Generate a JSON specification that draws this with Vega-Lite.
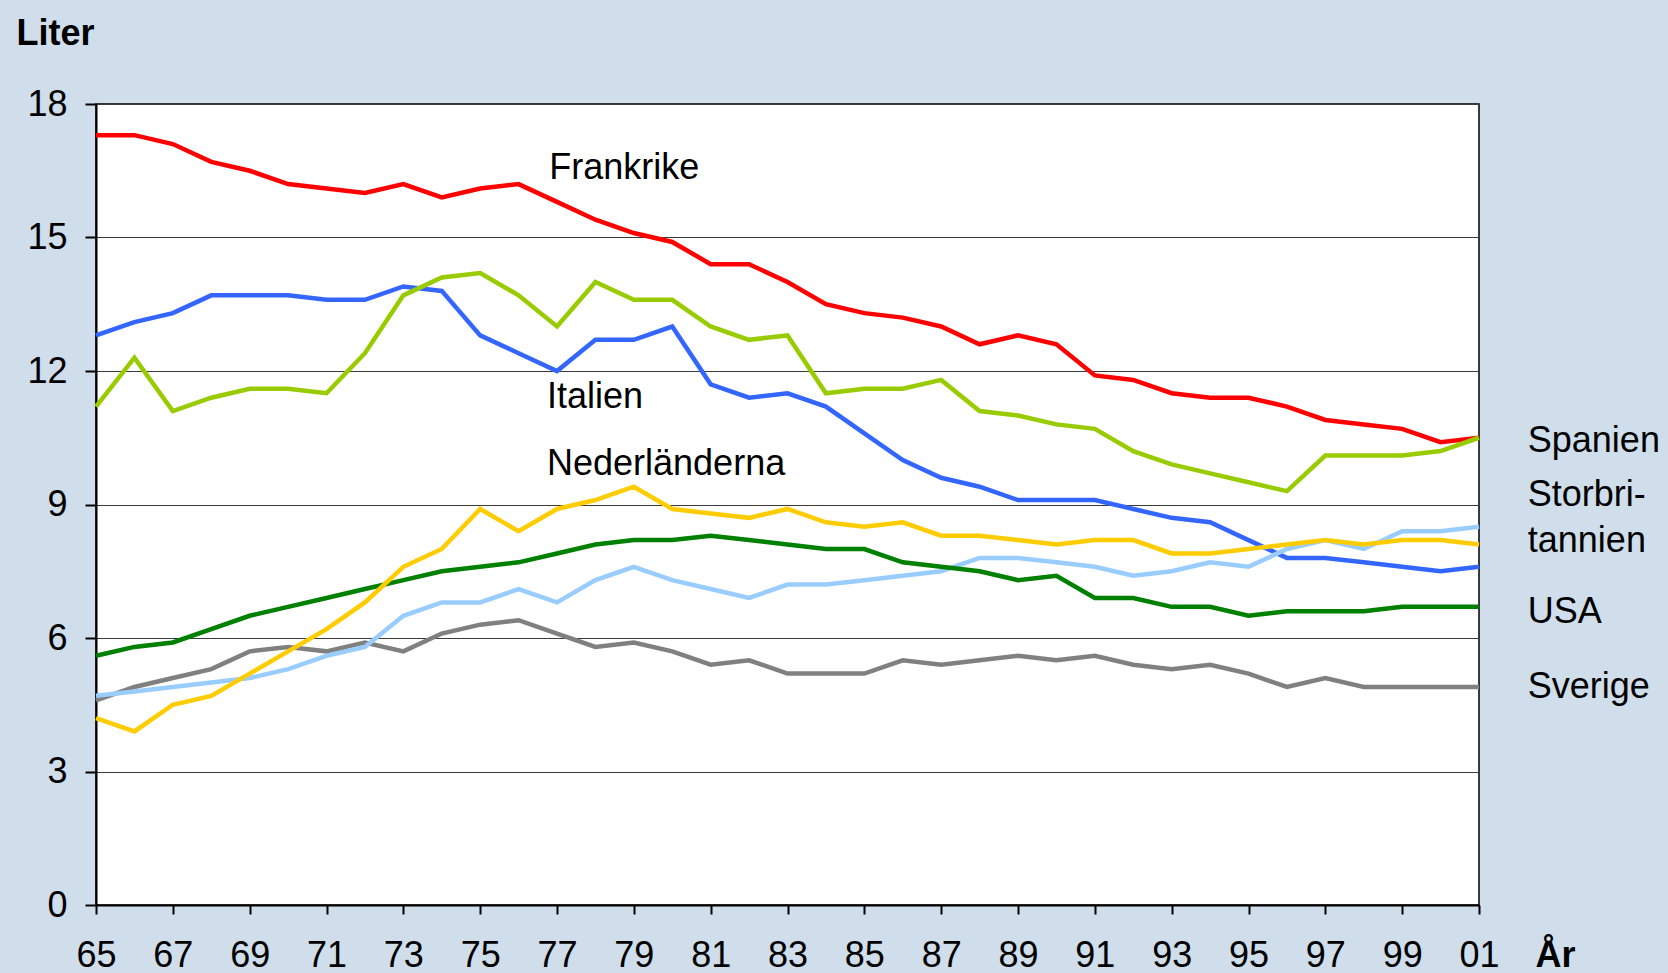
{
  "$schema": "https://vega.github.io/schema/vega-lite/v6.json",
  "width": 1383,
  "height": 801,
  "autosize": {"type": "none"},
  "padding": {"left": 96, "top": 104, "right": 189, "bottom": 68},
  "background": "#cfdeea",
  "config": {
    "view": {"fill": "#ffffff", "stroke": "#000000", "strokeWidth": 1.5},
    "font": "Liberation Sans",
    "axis": {"labelFont": "Liberation Sans", "titleFont": "Liberation Sans", "labelColor": "#000000", "titleColor": "#000000"}
  },
  "datasets": {
    "serier": [
      {"year":1965,"Frankrike":17.3,"Italien":12.8,"Spanien":11.2,"Nederländerna":4.2,"USA":5.6,"Storbritannien":4.7,"Sverige":4.6},
      {"year":1966,"Frankrike":17.3,"Italien":13.1,"Spanien":12.3,"Nederländerna":3.9,"USA":5.8,"Storbritannien":4.8,"Sverige":4.9},
      {"year":1967,"Frankrike":17.1,"Italien":13.3,"Spanien":11.1,"Nederländerna":4.5,"USA":5.9,"Storbritannien":4.9,"Sverige":5.1},
      {"year":1968,"Frankrike":16.7,"Italien":13.7,"Spanien":11.4,"Nederländerna":4.7,"USA":6.2,"Storbritannien":5.0,"Sverige":5.3},
      {"year":1969,"Frankrike":16.5,"Italien":13.7,"Spanien":11.6,"Nederländerna":5.2,"USA":6.5,"Storbritannien":5.1,"Sverige":5.7},
      {"year":1970,"Frankrike":16.2,"Italien":13.7,"Spanien":11.6,"Nederländerna":5.7,"USA":6.7,"Storbritannien":5.3,"Sverige":5.8},
      {"year":1971,"Frankrike":16.1,"Italien":13.6,"Spanien":11.5,"Nederländerna":6.2,"USA":6.9,"Storbritannien":5.6,"Sverige":5.7},
      {"year":1972,"Frankrike":16.0,"Italien":13.6,"Spanien":12.4,"Nederländerna":6.8,"USA":7.1,"Storbritannien":5.8,"Sverige":5.9},
      {"year":1973,"Frankrike":16.2,"Italien":13.9,"Spanien":13.7,"Nederländerna":7.6,"USA":7.3,"Storbritannien":6.5,"Sverige":5.7},
      {"year":1974,"Frankrike":15.9,"Italien":13.8,"Spanien":14.1,"Nederländerna":8.0,"USA":7.5,"Storbritannien":6.8,"Sverige":6.1},
      {"year":1975,"Frankrike":16.1,"Italien":12.8,"Spanien":14.2,"Nederländerna":8.9,"USA":7.6,"Storbritannien":6.8,"Sverige":6.3},
      {"year":1976,"Frankrike":16.2,"Italien":12.4,"Spanien":13.7,"Nederländerna":8.4,"USA":7.7,"Storbritannien":7.1,"Sverige":6.4},
      {"year":1977,"Frankrike":15.8,"Italien":12.0,"Spanien":13.0,"Nederländerna":8.9,"USA":7.9,"Storbritannien":6.8,"Sverige":6.1},
      {"year":1978,"Frankrike":15.4,"Italien":12.7,"Spanien":14.0,"Nederländerna":9.1,"USA":8.1,"Storbritannien":7.3,"Sverige":5.8},
      {"year":1979,"Frankrike":15.1,"Italien":12.7,"Spanien":13.6,"Nederländerna":9.4,"USA":8.2,"Storbritannien":7.6,"Sverige":5.9},
      {"year":1980,"Frankrike":14.9,"Italien":13.0,"Spanien":13.6,"Nederländerna":8.9,"USA":8.2,"Storbritannien":7.3,"Sverige":5.7},
      {"year":1981,"Frankrike":14.4,"Italien":11.7,"Spanien":13.0,"Nederländerna":8.8,"USA":8.3,"Storbritannien":7.1,"Sverige":5.4},
      {"year":1982,"Frankrike":14.4,"Italien":11.4,"Spanien":12.7,"Nederländerna":8.7,"USA":8.2,"Storbritannien":6.9,"Sverige":5.5},
      {"year":1983,"Frankrike":14.0,"Italien":11.5,"Spanien":12.8,"Nederländerna":8.9,"USA":8.1,"Storbritannien":7.2,"Sverige":5.2},
      {"year":1984,"Frankrike":13.5,"Italien":11.2,"Spanien":11.5,"Nederländerna":8.6,"USA":8.0,"Storbritannien":7.2,"Sverige":5.2},
      {"year":1985,"Frankrike":13.3,"Italien":10.6,"Spanien":11.6,"Nederländerna":8.5,"USA":8.0,"Storbritannien":7.3,"Sverige":5.2},
      {"year":1986,"Frankrike":13.2,"Italien":10.0,"Spanien":11.6,"Nederländerna":8.6,"USA":7.7,"Storbritannien":7.4,"Sverige":5.5},
      {"year":1987,"Frankrike":13.0,"Italien":9.6,"Spanien":11.8,"Nederländerna":8.3,"USA":7.6,"Storbritannien":7.5,"Sverige":5.4},
      {"year":1988,"Frankrike":12.6,"Italien":9.4,"Spanien":11.1,"Nederländerna":8.3,"USA":7.5,"Storbritannien":7.8,"Sverige":5.5},
      {"year":1989,"Frankrike":12.8,"Italien":9.1,"Spanien":11.0,"Nederländerna":8.2,"USA":7.3,"Storbritannien":7.8,"Sverige":5.6},
      {"year":1990,"Frankrike":12.6,"Italien":9.1,"Spanien":10.8,"Nederländerna":8.1,"USA":7.4,"Storbritannien":7.7,"Sverige":5.5},
      {"year":1991,"Frankrike":11.9,"Italien":9.1,"Spanien":10.7,"Nederländerna":8.2,"USA":6.9,"Storbritannien":7.6,"Sverige":5.6},
      {"year":1992,"Frankrike":11.8,"Italien":8.9,"Spanien":10.2,"Nederländerna":8.2,"USA":6.9,"Storbritannien":7.4,"Sverige":5.4},
      {"year":1993,"Frankrike":11.5,"Italien":8.7,"Spanien":9.9,"Nederländerna":7.9,"USA":6.7,"Storbritannien":7.5,"Sverige":5.3},
      {"year":1994,"Frankrike":11.4,"Italien":8.6,"Spanien":9.7,"Nederländerna":7.9,"USA":6.7,"Storbritannien":7.7,"Sverige":5.4},
      {"year":1995,"Frankrike":11.4,"Italien":8.2,"Spanien":9.5,"Nederländerna":8.0,"USA":6.5,"Storbritannien":7.6,"Sverige":5.2},
      {"year":1996,"Frankrike":11.2,"Italien":7.8,"Spanien":9.3,"Nederländerna":8.1,"USA":6.6,"Storbritannien":8.0,"Sverige":4.9},
      {"year":1997,"Frankrike":10.9,"Italien":7.8,"Spanien":10.1,"Nederländerna":8.2,"USA":6.6,"Storbritannien":8.2,"Sverige":5.1},
      {"year":1998,"Frankrike":10.8,"Italien":7.7,"Spanien":10.1,"Nederländerna":8.1,"USA":6.6,"Storbritannien":8.0,"Sverige":4.9},
      {"year":1999,"Frankrike":10.7,"Italien":7.6,"Spanien":10.1,"Nederländerna":8.2,"USA":6.7,"Storbritannien":8.4,"Sverige":4.9},
      {"year":2000,"Frankrike":10.4,"Italien":7.5,"Spanien":10.2,"Nederländerna":8.2,"USA":6.7,"Storbritannien":8.4,"Sverige":4.9},
      {"year":2001,"Frankrike":10.5,"Italien":7.6,"Spanien":10.5,"Nederländerna":8.1,"USA":6.7,"Storbritannien":8.5,"Sverige":4.9}
    ],
    "etiketter": [
      {"text":"Frankrike","year":1976.8,"v":16.31},
      {"text":"Italien","year":1976.74,"v":11.17},
      {"text":"Nederländerna","year":1976.74,"v":9.66},
      {"text":"Spanien","year":2002.27,"v":10.18},
      {"text":"Storbri-","year":2002.27,"v":8.97},
      {"text":"tannien","year":2002.27,"v":7.93},
      {"text":"USA","year":2002.27,"v":6.34},
      {"text":"Sverige","year":2002.27,"v":4.65}
    ]
  },
  "layer": [
    {
      "data": {"name": "serier"},
      "transform": [
        {"fold": ["Frankrike","Italien","Spanien","Sverige","Storbritannien","USA","Nederländerna"], "as": ["land","v"]}
      ],
      "mark": {"type": "line", "strokeWidth": 4.5, "strokeJoin": "miter", "clip": false},
      "encoding": {
        "x": {
          "field": "year", "type": "quantitative",
          "scale": {"domain": [1965, 2001], "nice": false, "zero": false},
          "axis": {
            "values": [1965,1966,1967,1968,1969,1970,1971,1972,1973,1974,1975,1976,1977,1978,1979,1980,1981,1982,1983,1984,1985,1986,1987,1988,1989,1990,1991,1992,1993,1994,1995,1996,1997,1998,1999,2000,2001],
            "labelExpr": "datum.value % 2 == 1 ? substring(toString(datum.value), 2, 4) : ''",
            "grid": false,
            "domainColor": "#000000", "domainWidth": 2,
            "tickColor": "#000000", "tickWidth": 2, "tickSize": 9,
            "labelFontSize": 36, "labelBaseline": "alphabetic", "labelPadding": 52,
            "labelFlush": false, "labelOverlap": false, "labelBound": false,
            "title": "År", "titleFontSize": 36, "titleFontWeight": "bold",
            "titleAnchor": null, "titleX": 1439, "titleY": 61,
            "titleAlign": "left", "titleBaseline": "alphabetic"
          }
        },
        "y": {
          "field": "v", "type": "quantitative",
          "scale": {"domain": [0, 18], "nice": false},
          "axis": {
            "values": [0,3,6,9,12,15,18],
            "grid": true, "gridColor": "#3a3a3a", "gridWidth": 1, "gridOpacity": 1,
            "domainColor": "#000000", "domainWidth": 2,
            "tickColor": "#000000", "tickWidth": 2, "tickSize": 11,
            "labelFontSize": 36, "labelPadding": 18, "labelBaseline": "middle",
            "labelFlush": false, "labelOverlap": false,
            "title": "Liter", "titleFontSize": 36, "titleFontWeight": "bold",
            "titleAngle": 0, "titleAnchor": null, "titleX": -80, "titleY": -60,
            "titleAlign": "left", "titleBaseline": "alphabetic"
          }
        },
        "color": {
          "field": "land", "type": "nominal",
          "scale": {
            "domain": ["Frankrike","Italien","Spanien","Nederländerna","USA","Storbritannien","Sverige"],
            "range": ["#ff0000","#3366ff","#99cc00","#ffcc00","#008000","#99ccff","#808080"]
          },
          "legend": null
        }
      }
    },
    {
      "data": {"name": "etiketter"},
      "mark": {"type": "text", "align": "left", "baseline": "alphabetic", "fontSize": 36, "font": "Liberation Sans", "color": "#000000", "clip": false},
      "encoding": {
        "x": {"field": "year", "type": "quantitative"},
        "y": {"field": "v", "type": "quantitative"},
        "text": {"field": "text"}
      }
    }
  ]
}
